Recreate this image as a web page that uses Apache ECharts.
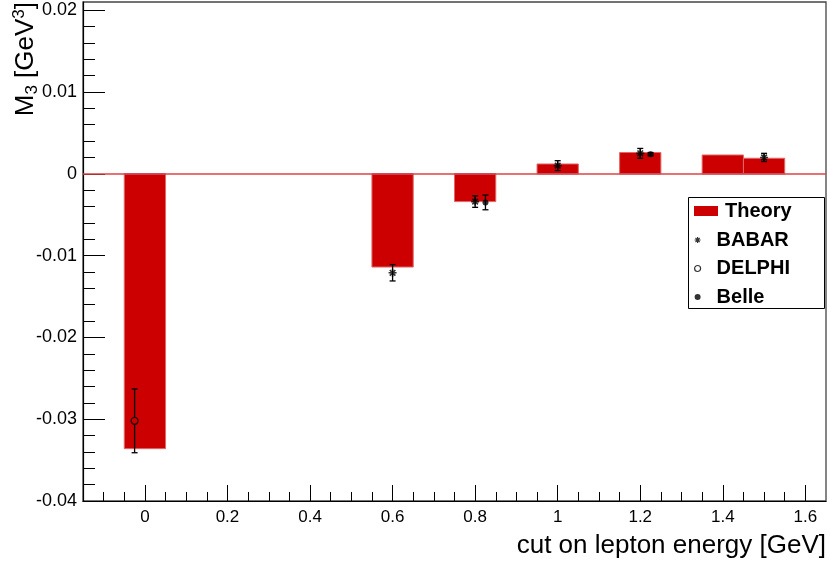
<!DOCTYPE html>
<html><head><meta charset="utf-8">
<script src="https://cdn.jsdelivr.net/npm/echarts@6/dist/echarts.min.js"></script>
<style>html,body{margin:0;padding:0;background:#fff}#c{width:830px;height:563px}</style>
</head><body><div id="c"></div>
<script>
// Theory histogram bins
const binLow  = [-0.05, 0.55, 0.75, 0.95, 1.15, 1.35, 1.45];
const binHigh = [ 0.05, 0.65, 0.85, 1.05, 1.25, 1.45, 1.55];
const theory  = [-0.0336, -0.0114, -0.0034, 0.0012, 0.0026, 0.0023, 0.0019];
// BABAR
const babarX   = [0.6, 0.8, 1.0, 1.2, 1.5];
const babarY   = [-0.0121, -0.0034, 0.0010, 0.0025, 0.0020];
const babarErr = [0.0010, 0.0007, 0.0006, 0.0006, 0.0005];
// DELPHI
const delphiX   = [-0.025];
const delphiY   = [-0.0302];
const delphiErr = [0.0039];
// Belle
const belleX   = [0.825, 1.225];
const belleY   = [-0.0035, 0.0024];
const belleErr = [0.0009, 0.0002];
// ticks
const xTicks = [0, 0.2, 0.4, 0.6, 0.8, 1.0, 1.2, 1.4, 1.6];
const xMinorTicks = [-0.1,-0.05,0.05,0.1,0.15,0.25,0.3,0.35,0.45,0.5,0.55,0.65,0.7,0.75,0.85,0.9,0.95,1.05,1.1,1.15,1.25,1.3,1.35,1.45,1.5,1.55];
const yTicks = [-0.04, -0.03, -0.02, -0.01, 0, 0.01, 0.02];
const yMinorTicks = [-0.038,-0.036,-0.034,-0.032,-0.028,-0.026,-0.024,-0.022,-0.018,-0.016,-0.014,-0.012,-0.008,-0.006,-0.004,-0.002,0.002,0.004,0.006,0.008,0.012,0.014,0.016,0.018];

const FONT = '"Liberation Sans", Arial, Helvetica, sans-serif';
const chart = echarts.init(document.getElementById('c'), null, {renderer:'canvas'});

function zip3(a,b,c){ return a.map((v,i)=>[v,b[i],c[i]]); }

function errRender(gap){
  return function(params, api){
    const x = api.value(0), y = api.value(1), e = api.value(2);
    const c = api.coord([x, y]), t = api.coord([x, y + e]), b = api.coord([x, y - e]);
    const st = {stroke:'#000', lineWidth:1.3};
    const ch = [];
    if (gap > 0) {
      if (c[1] - gap > t[1]) ch.push({type:'line', shape:{x1:c[0], y1:t[1], x2:c[0], y2:c[1]-gap}, style:st});
      if (c[1] + gap < b[1]) ch.push({type:'line', shape:{x1:c[0], y1:c[1]+gap, x2:c[0], y2:b[1]}, style:st});
    } else {
      ch.push({type:'line', shape:{x1:c[0], y1:t[1], x2:c[0], y2:b[1]}, style:st});
    }
    ch.push({type:'line', shape:{x1:c[0]-3, y1:t[1], x2:c[0]+3, y2:t[1]}, style:st});
    ch.push({type:'line', shape:{x1:c[0]-3, y1:b[1], x2:c[0]+3, y2:b[1]}, style:st});
    return {type:'group', children:ch};
  };
}

const axisFont = {fontFamily:FONT, fontSize:17, color:'#000'};
const fmt = v => String(Math.round(v*1000)/1000);

const option = {
  animation:false,
  backgroundColor:'#fff',
  grid:{left:83, right:4, top:2, bottom:62, show:true, borderColor:'#444', borderWidth:1.3, backgroundColor:'transparent'},
  xAxis:[{
    type:'value', min:-0.15, max:1.65, position:'bottom',
    axisLine:{show:true, onZero:false, lineStyle:{color:'#000', width:1.2}},
    axisTick:{show:true, inside:true, length:16, customValues:xTicks, lineStyle:{color:'#000', width:1}},
    axisLabel:Object.assign({customValues:xTicks, margin:8, formatter:fmt}, axisFont),
    splitLine:{show:false}
  },{
    type:'value', min:-0.15, max:1.65, position:'bottom',
    axisLine:{show:false, onZero:false},
    axisTick:{show:true, inside:true, length:9, customValues:xMinorTicks, lineStyle:{color:'#000', width:1}},
    axisLabel:{show:false}, splitLine:{show:false}
  }],
  yAxis:[{
    type:'value', min:-0.04, max:0.021, position:'left',
    axisLine:{show:true, onZero:false, lineStyle:{color:'#000', width:1.2}},
    axisTick:{show:true, inside:true, length:22, customValues:yTicks, lineStyle:{color:'#000', width:1}},
    axisLabel:Object.assign({customValues:yTicks, margin:6, fontSize:18, formatter:fmt}, {fontFamily:FONT, color:'#000'}),
    splitLine:{show:false}
  },{
    type:'value', min:-0.04, max:0.021, position:'left',
    axisLine:{show:false, onZero:false},
    axisTick:{show:true, inside:true, length:12, customValues:yMinorTicks, lineStyle:{color:'#000', width:1}},
    axisLabel:{show:false}, splitLine:{show:false}
  }],
  legend:[{
    data:[{name:'Theory', icon:'rect', itemStyle:{color:'#cc0000'}}],
    left:694, top:201, padding:0, itemWidth:24, itemHeight:10, selectedMode:false,
    textStyle:{fontFamily:FONT, fontWeight:'bold', fontSize:20, color:'#000', padding:[0,0,0,2]}
  },{
    data:['BABAR','DELPHI','Belle'], orient:'vertical',
    left:694, top:230, padding:0, itemWidth:24, itemHeight:6, itemGap:8.5, selectedMode:false,
    itemStyle:{borderWidth:1.2},
    textStyle:{fontFamily:FONT, fontWeight:'bold', fontSize:20, color:'#000', padding:[0,0,0,2]}
  }],
  graphic:[
    {type:'rect', z:3, shape:{x:688.5, y:197.5, width:136, height:111}, style:{fill:'#fff', stroke:'#000', lineWidth:1}},
    {type:'text', z:5, x:826, y:546, style:{text:'cut on lepton energy [GeV]', fontFamily:FONT, fontSize:26, fill:'#000', align:'right', verticalAlign:'middle'}},
    {type:'text', z:5, x:26, y:2, rotation:Math.PI/2,
      style:{text:'{m|M}{s|3}{m| [GeV}{p|3}{m|]}', fill:'#000', align:'right', verticalAlign:'middle',
        rich:{
          m:{fontFamily:FONT, fontSize:26, lineHeight:30, fill:'#000'},
          s:{fontFamily:FONT, fontSize:17, lineHeight:17, verticalAlign:'bottom', fill:'#000'},
          p:{fontFamily:FONT, fontSize:17, lineHeight:17, verticalAlign:'top', fill:'#000'}
        }}}
  ],
  series:[
    {
      type:'line', name:'zero', data:[], z:1, silent:true,
      markLine:{silent:true, symbol:'none', label:{show:false}, animation:false,
        lineStyle:{color:'#dc4545', width:1.6, type:'solid'}, data:[{yAxis:0}]}
    },
    {
      type:'custom', name:'Theory', z:2, silent:true,
      itemStyle:{color:'#cc0000'},
      data: zip3(binLow, binHigh, theory),
      encode:{x:[0,1], y:2},
      renderItem:function(params, api){
        const lo = api.value(0), hi = api.value(1), v = api.value(2);
        const p1 = api.coord([lo, v]), p2 = api.coord([hi, 0]);
        const y0 = Math.min(p1[1], p2[1]), h = Math.abs(p2[1]-p1[1]);
        return {type:'group', children:[
          {type:'rect', shape:{x:p1[0], y:y0, width:p2[0]-p1[0], height:h},
            style:{fill:'#cc0000', stroke:'#e06868', lineWidth:1}},
          {type:'line', shape:{x1:p1[0], y1:p2[1], x2:p2[0], y2:p2[1]}, style:{stroke:'#7461b8', lineWidth:1}}
        ]};
      }
    },
    {type:'custom', name:'BABAR err', z:4, silent:true, data:zip3(babarX, babarY, babarErr), encode:{x:0, y:1}, renderItem:errRender(0)},
    {type:'custom', name:'DELPHI err', z:4, silent:true, data:zip3(delphiX, delphiY, delphiErr), encode:{x:0, y:1}, renderItem:errRender(3.5)},
    {type:'custom', name:'Belle err', z:4, silent:true, data:zip3(belleX, belleY, belleErr), encode:{x:0, y:1}, renderItem:errRender(0)},
    {type:'scatter', name:'BABAR', z:5, silent:true,
      symbol:'path://M0,4L8,4M4,0L4,8M1.2,1.2L6.8,6.8M6.8,1.2L1.2,6.8', symbolSize:8,
      itemStyle:{color:'#000', borderColor:'#000', borderWidth:1.6},
      data:babarX.map((x,i)=>[x, babarY[i]])},
    {type:'scatter', name:'DELPHI', z:5, silent:true,
      symbol:'circle', symbolSize:7,
      itemStyle:{color:'rgba(0,0,0,0)', borderColor:'#000', borderWidth:1.3},
      data:delphiX.map((x,i)=>[x, delphiY[i]])},
    {type:'scatter', name:'Belle', z:5, silent:true,
      symbol:'circle', symbolSize:6,
      itemStyle:{color:'#000'},
      data:belleX.map((x,i)=>[x, belleY[i]])}
  ]
};
chart.setOption(option);
</script>
</body></html>
